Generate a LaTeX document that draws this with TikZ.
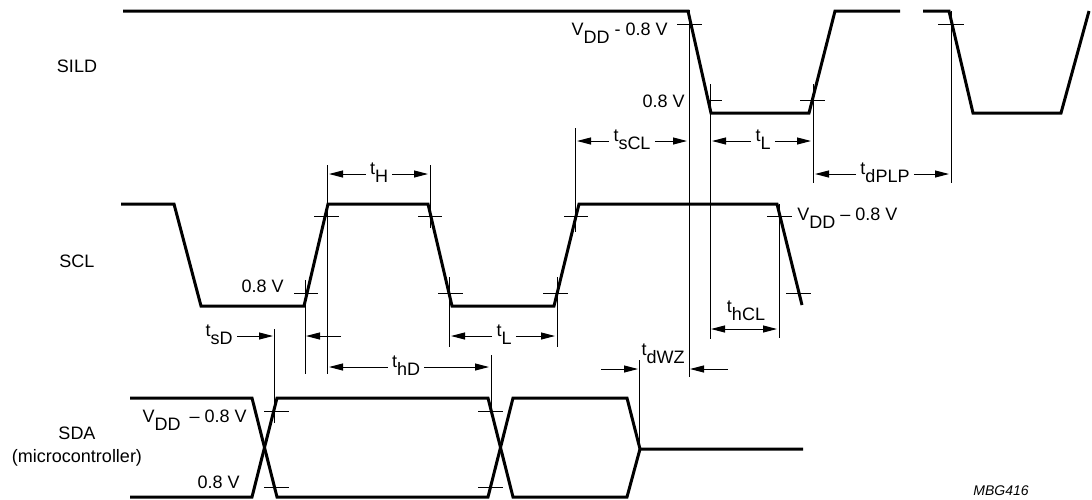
\documentclass[tikz,border=0pt]{standalone}
\usepackage{fontspec}
\setmainfont{Liberation Sans}
\usetikzlibrary{arrows.meta}
\newcommand{\lo}[1]{\raisebox{-4pt}{#1}}

\begin{document}
\begin{tikzpicture}[x=0.5pt, y=-0.5pt,
      >={Triangle[length=7pt, width=3.5pt]},
      wave/.style={line width=1.5pt},
      guide/.style={line width=0.5pt},
      lbl/.style={inner sep=2pt, font=\fontsize{9}{11.5}\selectfont}]
    \useasboundingbox (0,0) rectangle (1092,499);
    \node[lbl] (sild) at (77,66) {SILD};
    \node[lbl] (scl) at (77,261) {SCL};
    \node[lbl, align=center] (sda) at (77,447) {SDA\\(microcontroller)};
    \draw[wave] (123,11) -- (688,11) -- (711,113) -- (809,113) -- (835,11) -- (900,11);
    \draw[wave] (923,11) -- (949,11) -- (973,113) -- (1061,113) -- (1089,11);
    \draw[wave] (121,204) -- (174,204) -- (201,306) -- (304,306) -- (328,204) -- (428,204)
      -- (452,306) -- (554,306) -- (579,204) -- (777,204) -- (802,305);
    \draw[wave] (130,398) -- (252,398) -- (277,497) -- (488,497) -- (513,398) -- (627,398)
      -- (640,449) -- (803,449);
    \draw[wave] (130,497) -- (252,497) -- (277,398) -- (488,398) -- (513,497) -- (627,497)
      -- (640,449);
    % level crossings
    \foreach \y/\a/\b in {24/677/702, 100/707/722, 100/800/825, 24/938/964,
        293/294/318, 216/314/339, 216/418/442, 293/438/463, 293/543/568,
        216/564/588, 216/767/792, 293/786/811,
        411/264/289, 487/264/289, 411/478/503, 487/478/503}
      \draw[guide] (\a,\y) -- (\b,\y);
    \foreach \x/\a/\b in {689/10/377, 710/84/339, 813/84/183, 951/11/183,
        305/280/374, 327/165/374, 430/165/228, 449/277/347, 557/277/347,
        575/128/232, 779/204/338, 274/329/423, 491/355/413, 639/360/449}
      \draw[guide] (\x,\a) -- (\x,\b);
    \node[lbl, anchor=base east] (vsild) at (672,35) {V\lo{DD} - 0.8 V};
    \node[lbl, anchor=base east] (lsild) at (689,107) {0.8 V};
    \node[lbl, anchor=base west] (vscl) at (793,220) {V\lo{DD} -- 0.8 V};
    \node[lbl, anchor=base east] (lscl) at (288,292) {0.8 V};
    \node[lbl, anchor=base east] (vsda) at (251,422) {V\lo{DD}\hspace{2pt} -- 0.8 V};
    \node[lbl, anchor=base east] (lsda) at (244,488) {0.8 V};
    % timing intervals
    \foreach \nm/\sb/\xl/\xr/\y/\xc in {tH/H/327/430/174/379, tsCL/sCL/575/689/141/632,
        tLa/L/710/813/141/763, tdPLP/dPLP/813/951/174/885,
        tLb/L/449/557/336/504, thD/hD/327/491/367/406} {
      \node[lbl, anchor=base] (\nm) at (\xc,\y) {t\lo{\sb}};
      \coordinate (\nm-l) at (\xl+2,\y);
      \coordinate (\nm-r) at (\xr-2,\y);
      \draw[guide, ->] (\nm.west |- \nm-l) -- (\nm-l);
      \draw[guide, ->] (\nm.east |- \nm-r) -- (\nm-r);
    }
    \node[lbl, anchor=base east] (tsD) at (237,336) {t\lo{sD}};
    \coordinate (tsD-r) at (273,336);
    \coordinate (tsD-e) at (341,336);
    \coordinate (tsD-q) at (306,336);
    \draw[guide, ->] (tsD.east |- tsD-r) -- (tsD-r);
    \draw[guide, ->] (tsD-e) -- (tsD-q);
    \node[lbl, anchor=base] (thCL) at (746,312) {t\lo{hCL}};
    \coordinate (thCL-l) at (711,329);
    \coordinate (thCL-r) at (777,329);
    \draw[guide, <->] (thCL-l) -- (thCL-r);
    \node[lbl, anchor=base] (tdWZ) at (663,355) {t\lo{dWZ}};
    \coordinate (wz-a) at (601,369);
    \coordinate (wz-b) at (638,369);
    \coordinate (wz-c) at (728,369);
    \coordinate (wz-d) at (690,369);
    \draw[guide, ->] (wz-a) -- (wz-b);
    \draw[guide, ->] (wz-c) -- (wz-d);
    \node[lbl, anchor=base west, inner sep=0pt, font=\fontsize{7}{8}\selectfont\itshape]
      (code) at (973,495) {MBG416};
  \end{tikzpicture}
\end{document}
